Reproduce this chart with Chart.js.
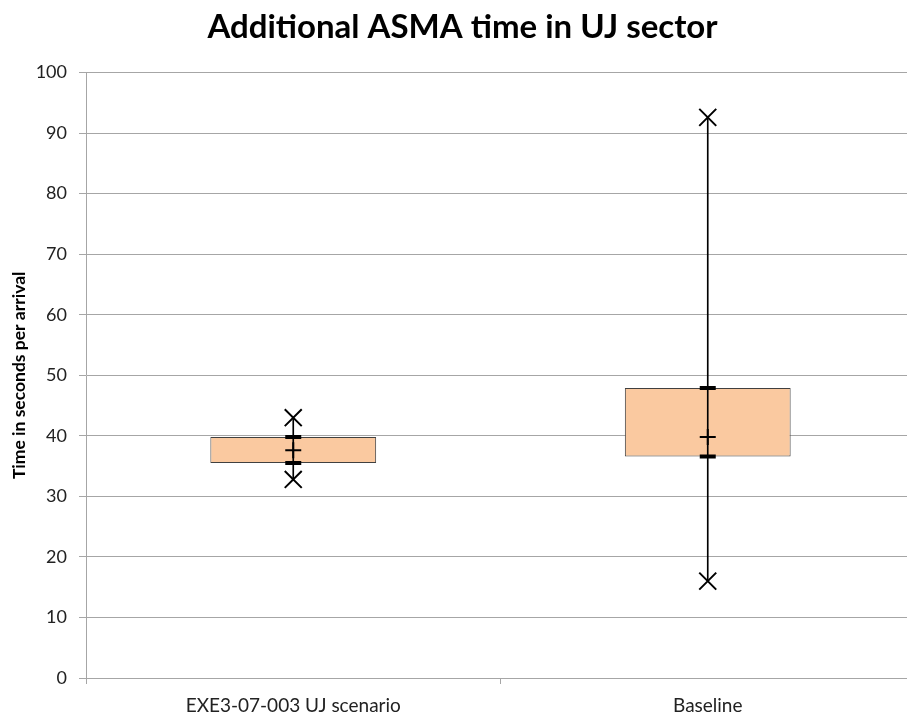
<!DOCTYPE html>
<html>
<head>
<meta charset="utf-8">
<script src="https://cdn.jsdelivr.net/npm/chart.js@4"></script>
<style>
  body { margin: 0; background: #fff; overflow: hidden; }
  #wrap { width: 907px; height: 717px; overflow: hidden; }
</style>
</head>
<body>
<div id="wrap"><canvas id="boxChart" width="915" height="717"></canvas></div>
<script>
// values (seconds per arrival)
const categories = ['EXE3-07-003 UJ scenario', 'Baseline'];
const minVals = [32.8, 16.0];
const q1Vals = [35.5, 36.6];
const meanVals = [37.6, 39.8];
const q3Vals = [39.8, 47.9];
const maxVals = [43.0, 92.6];
const yTicks = [0, 10, 20, 30, 40, 50, 60, 70, 80, 90, 100];

const ctx = document.getElementById('boxChart').getContext('2d');

let boxes = categories.map((c, i) => [q1Vals[i], q3Vals[i]]);
let whiskers = categories.map((c, i) => [minVals[i], maxVals[i]]);

let chart = new Chart(ctx, {
  type: 'bar',
  data: {
    labels: categories,
    datasets: [
      {
        label: 'box',
        data: boxes,
        backgroundColor: '#FAC9A0',
        borderColor: '#404040',
        borderWidth: 1,
        borderSkipped: false,
        grouped: false,
        categoryPercentage: 1,
        barPercentage: 0.4,
        order: 3
      },
      {
        label: 'whisker',
        data: whiskers,
        backgroundColor: '#000000',
        borderWidth: 0,
        grouped: false,
        barThickness: 1,
        order: 2
      },
      {
        type: 'line',
        label: 'max',
        data: maxVals,
        showLine: false,
        pointStyle: 'crossRot',
        pointRadius: 12,
        borderColor: '#000',
        borderWidth: 2,
        order: 1
      },
      {
        type: 'line',
        label: 'min',
        data: minVals,
        showLine: false,
        pointStyle: 'crossRot',
        pointRadius: 12,
        borderColor: '#000',
        borderWidth: 2,
        order: 1
      },
      {
        type: 'line',
        label: 'mean',
        data: meanVals,
        showLine: false,
        pointStyle: 'cross',
        pointRadius: 8,
        borderColor: '#000',
        borderWidth: 2,
        order: 1
      },
      {
        type: 'line',
        label: 'q3',
        data: q3Vals,
        showLine: false,
        pointStyle: 'line',
        pointRadius: 8,
        borderColor: '#000',
        borderWidth: 4,
        order: 1
      },
      {
        type: 'line',
        label: 'q1',
        data: q1Vals,
        showLine: false,
        pointStyle: 'line',
        pointRadius: 8,
        borderColor: '#000',
        borderWidth: 4,
        order: 1
      }
    ]
  },
  options: {
    responsive: false,
    animation: false,
    layout: { autoPadding: false, padding: { top: 4, right: -1, bottom: 0, left: 9 } },
    plugins: {
      legend: { display: false },
      tooltip: { enabled: false },
      title: {
        display: true,
        text: 'Additional ASMA time in UJ sector',
        color: '#000',
        font: { family: 'Lato', size: 33, weight: 'bold' },
        padding: { top: 4, bottom: 25 }
      }
    },
    scales: {
      x: {
        offset: true,
        afterFit: function (scale) { scale.height = 39; },
        grid: {
          display: true,
          offset: true,
          drawOnChartArea: false,
          color: '#a6a6a6',
          tickLength: 6
        },
        border: { color: '#a6a6a6' },
        ticks: {
          color: '#222',
          font: { family: 'Lato', size: 19, lineHeight: 1 },
          padding: 12
        }
      },
      y: {
        min: 0,
        max: 100,
        afterFit: function (scale) { scale.width = 77; },
        afterBuildTicks: function (axis) {
          axis.ticks = yTicks.map(v => ({ value: v }));
        },
        grid: { color: '#a6a6a6', tickLength: 7 },
        border: { color: '#a6a6a6' },
        ticks: {
          color: '#222',
          font: { family: 'Lato', size: 18 },
          padding: 12
        },
        title: {
          display: true,
          text: 'Time in seconds per arrival',
          color: '#000',
          font: { family: 'Lato', size: 17.5, weight: 'bold' },
          padding: { top: 0, bottom: 0 }
        }
      }
    }
  }
});
</script>
</body>
</html>
